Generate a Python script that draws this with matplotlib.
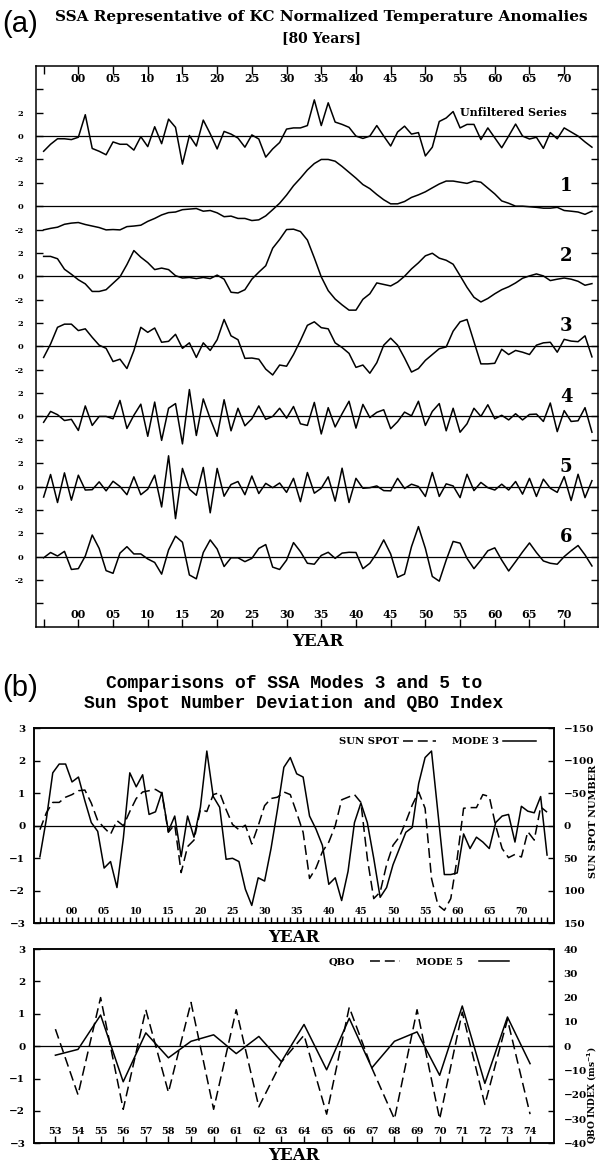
import numpy as np
import matplotlib
matplotlib.use("Agg")
import matplotlib.pyplot as plt
from matplotlib.lines import Line2D

# ---- data ----
YEARS = list(range(1895, 1975))

UNFILTERED = [-1.3, -0.7, -0.23, -0.23, -0.3, -0.1, 1.83, -1.06, -1.3, -1.6,
              -0.5, -0.7, -0.7, -1.2, -0.05, -0.9, 0.8, -0.65, 1.45, 0.75,
              -2.4, 0.05, -0.85, 1.37, 0.2, -1.1, 0.4, 0.17, -0.17, -0.95,
              0.1, -0.25, -1.8, -1.1, -0.55, 0.6, 0.7, 0.7, 0.9, 3.1,
              0.9, 2.85, 1.2, 1.0, 0.75, 0.0, -0.2, 0.0, 0.9, 0.0,
              -0.85, 0.35, 0.85, 0.17, 0.3, -1.7, -0.95, 1.25, 1.55, 2.1,
              0.7, 1.0, 1.0, -0.3, 0.7, -0.15, -1.0, 0.0, 1.03, 0.0,
              -0.25, -0.1, -1.05, 0.3, -0.23, 0.7, 0.35, 0.0, -0.5, -0.95]

MODE1 = [-2.03, -1.9, -1.8, -1.55, -1.45, -1.4, -1.57, -1.7, -1.83, -2.03,
         -2.0, -2.03, -1.75, -1.7, -1.63, -1.3, -1.05, -0.75, -0.55, -0.5,
         -0.3, -0.25, -0.2, -0.43, -0.37, -0.57, -0.9, -0.85, -1.05, -1.05,
         -1.23, -1.17, -0.83, -0.3, 0.25, 0.95, 1.75, 2.4, 3.1, 3.65,
         4.0, 4.0, 3.85, 3.4, 2.9, 2.4, 1.85, 1.5, 1.0, 0.55,
         0.2, 0.2, 0.4, 0.75, 0.97, 1.23, 1.57, 1.9, 2.15, 2.15,
         2.05, 1.95, 2.15, 2.05, 1.55, 1.05, 0.45, 0.25, 0.0, 0.0,
         -0.05, -0.1, -0.17, -0.17, -0.1, -0.37, -0.43, -0.5, -0.7, -0.43]

MODE2 = [1.7, 1.7, 1.5, 0.6, 0.17, -0.3, -0.65, -1.3, -1.3, -1.15,
         -0.6, -0.05, 1.0, 2.2, 1.63, 1.17, 0.57, 0.7, 0.57, 0.05,
         -0.15, -0.1, -0.2, -0.1, -0.2, 0.1, -0.25, -1.37, -1.43, -1.15,
         -0.25, 0.35, 0.9, 2.4, 3.15, 4.0, 4.03, 3.83, 3.1, 1.57,
         -0.05, -1.23, -1.95, -2.45, -2.9, -2.9, -1.97, -1.5, -0.57, -0.7,
         -0.83, -0.5, 0.0, 0.63, 1.15, 1.75, 1.97, 1.55, 1.37, 1.03,
         0.05, -0.95, -1.8, -2.2, -1.9, -1.5, -1.15, -0.9, -0.57, -0.17,
         0.03, 0.2, 0.03, -0.37, -0.25, -0.15, -0.25, -0.43, -0.77, -0.63]

MODE3 = [-0.95, 0.2, 1.63, 1.9, 1.9, 1.35, 1.5, 0.77, 0.1, -0.17,
         -1.3, -1.1, -1.9, -0.37, 1.63, 1.2, 1.57, 0.35, 0.43, 1.03,
         -0.17, 0.3, -0.95, 0.3, -0.35, 0.57, 2.3, 0.9, 0.57, -1.03,
         -1.0, -1.1, -1.95, -2.45, -1.6, -1.7, -0.7, 0.5, 1.8, 2.1,
         1.6, 1.5, 0.3, -0.1, -0.6, -1.8, -1.6, -2.3, -1.4, 0.1,
         0.7, 0.1, -1.0, -2.2, -1.9, -1.2, -0.7, -0.2, -0.05, 1.3,
         2.1, 2.3, 0.4, -1.5, -1.5, -1.45, -0.25, -0.7, -0.35, -0.5,
         -0.7, 0.1, 0.3, 0.35, -0.5, 0.6, 0.45, 0.4, 0.9, -0.9]

MODE4 = [-0.5, 0.43, 0.15, -0.35, -0.25, -1.2, 0.9, -0.77, 0.0, 0.0,
         -0.2, 1.37, -1.03, 0.1, 1.05, -1.7, 1.23, -2.05, 0.7, 1.1,
         -2.35, 2.3, -1.63, 1.5, -0.2, -1.7, 1.43, -1.23, 0.7, -0.8,
         -0.2, 0.9, -0.25, 0.0, 0.7, -0.15, 0.85, -0.63, -0.77, 1.2,
         -1.5, 0.75, -0.9, 0.23, 1.3, -1.0, 1.03, -0.1, 0.35, 0.57,
         -1.05, -0.45, 0.37, 0.05, 1.3, -0.77, 0.43, 1.1, -1.23, 0.7,
         -1.35, -0.63, 0.7, 0.0, 1.0, -0.2, 0.1, -0.3, 0.23, -0.3,
         0.17, 0.2, -0.43, 1.15, -1.3, 0.5, -0.43, -0.37, 0.75, -1.35]

MODE5 = [-0.9, 1.03, -1.37, 1.17, -1.17, 0.97, -0.3, -0.27, 0.4, -0.37,
         0.45, 0.0, -0.7, 0.83, -0.7, -0.23, 0.97, -1.75, 2.63, -2.75,
         1.55, -0.23, -0.75, 1.63, -2.25, 1.55, -0.83, 0.17, 0.43, -0.7,
         0.9, -0.6, 0.27, -0.1, 0.3, -0.5, 0.7, -1.3, 1.2, -0.57,
         -0.15, 0.83, -1.25, 1.57, -1.37, 0.7, -0.15, -0.1, 0.05, -0.35,
         -0.37, 0.7, -0.17, 0.2, 0.0, -0.85, 1.2, -0.85, 0.23, 0.05,
         -0.95, 1.05, -0.35, 0.35, -0.1, -0.3, 0.2, -0.3, 0.43, -0.65,
         0.7, -0.85, 0.63, -0.15, -0.5, 0.85, -1.2, 1.05, -0.95, 0.5]

MODE6 = [-0.1, 0.35, 0.05, 0.45, -1.1, -1.03, 0.05, 1.85, 0.7, -1.2,
         -1.43, 0.3, 0.85, 0.23, 0.23, -0.2, -0.5, -1.5, 0.57, 1.75,
         1.23, -1.57, -1.9, 0.35, 1.43, 0.65, -0.85, -0.1, -0.1, -0.43,
         -0.15, 0.7, 1.03, -0.9, -1.1, -0.3, 1.2, 0.43, -0.57, -0.65,
         0.1, 0.37, -0.15, 0.3, 0.37, 0.35, -1.03, -0.57, 0.3, 1.43,
         0.23, -1.77, -1.5, 0.85, 2.57, 0.7, -1.7, -2.1, -0.3, 1.3,
         1.15, -0.15, -1.03, -0.3, 0.5, 0.75, -0.3, -1.23, -0.43, 0.4,
         1.17, 0.35, -0.37, -0.57, -0.65, 0.0, 0.5, 0.95, 0.15, -0.8]

ROW_LABELS = ["", "1", "2", "3", "4", "5", "6"]

# sun spot number deviation (right axis, inverted)
SUNSPOT = [6, -20, -36, -36, -44, -48, -54, -55, -35, -8,
           3, 13, -8, 0, -22, -42, -52, -54, -56, -50,
           10, -2, 72, 32, 22, -25, -22, -48, -51, -25,
           -2, 6, -1, 28, 0, -31, -42, -44, -52, -48,
           -20, 10, 81, 65, 40, 25, 0, -40, -44, -48,
           -36, 50, 112, 102, 60, 30, 17, -6, -32, -52,
           -27, 81, 122, 130, 112, 50, -27, -28, -28, -48,
           -45, 0, 35, 49, 44, 48, 9, 22, -29, -21]

QBO_YEARS = list(range(1953, 1975))
QBO = [7, -20, 20, -26, 15, -19, 18, -26, 15, -25, -6.5,
       4.5, -28, 16, -9, -30, 15, -30, 14, -24, 11, -28]
MODE5_QBO = [-0.28, -0.1, 0.96, -1.1, 0.41, -0.36, 0.15, 0.35, -0.23, 0.3, -0.48,
             0.67, -0.73, 0.86, -0.67, 0.15, 0.44, -0.9, 1.24, -1.15, 0.9, -0.54]

# ---- style ----
plt.rcParams["font.family"] = "DejaVu Serif"
plt.rcParams["font.weight"] = "bold"
plt.rcParams["axes.linewidth"] = 1.1

W, H = 600, 1165
LW = 1.1
DASH = (0, (6.5, 3.2))
ROW_STEP = 6


def box(left, top, right, bottom):
    return [left / W, 1 - bottom / H, (right - left) / W, (bottom - top) / H]


fig = plt.figure(figsize=(W / 100, H / 100), dpi=100)

# ---------------- panel (a) ----------------
fig.text(2 / W, 1 - 23.5 / H, "(a)", fontsize=21, family="Liberation Sans",
         fontweight="normal", ha="left", va="center")
fig.text(321 / W, 1 - 17 / H, "SSA Representative of KC Normalized Temperature Anomalies",
         fontsize=11, ha="center", va="center")
fig.text(321 / W, 1 - 38 / H, "[80 Years]", fontsize=10, ha="center", va="center")

axA = fig.add_axes(box(36, 66, 597.5, 626.7))
rows = [UNFILTERED, MODE1, MODE2, MODE3, MODE4, MODE5, MODE6]
for k, series in enumerate(rows):
    off = -ROW_STEP * k
    axA.axhline(off, color="k", lw=0.9)
    axA.plot(YEARS, np.asarray(series) + off, color="k", lw=LW)
    if ROW_LABELS[k]:
        axA.text(1970.3, off + 1.7, ROW_LABELS[k], fontsize=13,
                 ha="center", va="center")
axA.text(1955, 2.0, "Unfiltered Series", fontsize=8, ha="left", va="center")

axA.set_xlim(1893.9, 1974.8)
axA.set_ylim(-42, 6)
yt = np.arange(-40, 5, 2)
axA.set_yticks(yt)
axA.set_yticklabels(["" if v in (4, -40) else "%d" % (((v + 2) % 6) - 2) for v in yt])
xt = list(range(1895, 1971, 5))
axA.set_xticks(xt)
axA.set_xticklabels(["" if y == 1895 else "%02d" % (y % 100) for y in xt])
axA.tick_params(axis="x", direction="in", top=True, bottom=True, labeltop=True,
                labelbottom=True, length=6, width=1, pad=-13, labelsize=8)
axA.tick_params(axis="y", direction="in", left=True, right=True, length=5,
                width=1, labelsize=6, pad=9)
fig.text(318 / W, 1 - 642 / H, "YEAR", fontsize=12, ha="center", va="center")

# ---------------- panel (b) ----------------
fig.text(2 / W, 1 - 688 / H, "(b)", fontsize=21, family="Liberation Sans",
         fontweight="normal", ha="left", va="center")
fig.text(294 / W, 1 - 684 / H, "Comparisons of SSA Modes 3 and 5 to",
         fontsize=13, family="Liberation Mono", ha="center", va="center")
fig.text(294 / W, 1 - 703 / H, "Sun Spot Number Deviation and QBO Index",
         fontsize=13, family="Liberation Mono", ha="center", va="center")

# top: mode 3 vs sun spot
axB1 = fig.add_axes(box(33.7, 728.3, 553.8, 923.3))
axB1.axhline(0, color="k", lw=0.9)
axB1.plot(YEARS, MODE3, color="k", lw=LW)
axB1.set_xlim(1894.03, 1975.05)
axB1.set_ylim(-3, 3)
axB1r = axB1.twinx()
axB1r.plot(YEARS, SUNSPOT, color="k", lw=LW, ls=DASH)
axB1r.set_ylim(150, -150)
axB1r.set_yticks(np.arange(-150, 151, 50))
axB1r.tick_params(axis="y", length=0, pad=7, labelsize=7.5)

axB1.set_yticks(np.arange(-3, 4, 1))
axB1.set_xticks(YEARS)
axB1.set_xticklabels(["%02d" % (y % 100) if y % 5 == 0 and y >= 1900 else "" for y in YEARS])
axB1.tick_params(axis="x", direction="in", length=4.5, width=1, pad=-11.7, labelsize=6.5)
axB1.tick_params(axis="y", direction="in", left=True, right=True, length=4.5,
                 width=1, labelsize=7.5, pad=6)

handles = [Line2D([], [], color="k", lw=LW, ls=DASH), Line2D([], [], color="k", lw=LW)]
axB1r.legend(handles, ["SUN SPOT", "MODE 3"], ncol=2, markerfirst=False, frameon=False,
             loc="center right", bbox_to_anchor=(0.965, 0.931), borderaxespad=0,
             borderpad=0, handlelength=3.2, handletextpad=0.4, columnspacing=1.6,
             prop={"size": 7.3, "weight": "bold"})
fig.text(594 / W, 1 - 821.5 / H, "SUN SPOT NUMBER", rotation=90, fontsize=7,
         ha="center", va="center")
fig.text(294 / W, 1 - 937 / H, "YEAR", fontsize=12, ha="center", va="center")

# bottom: mode 5 vs QBO
axB2 = fig.add_axes(box(33.7, 949, 553.8, 1143.3))
axB2.axhline(0, color="k", lw=0.9)
axB2.plot(QBO_YEARS, MODE5_QBO, color="k", lw=LW)
axB2.set_xlim(1952.04, 1975.05)
axB2.set_ylim(-3, 3)
axB2r = axB2.twinx()
axB2r.plot(QBO_YEARS, QBO, color="k", lw=LW, ls=DASH)
axB2r.set_ylim(-40, 40)
axB2r.set_yticks(np.arange(-40, 41, 10))
axB2r.tick_params(axis="y", length=0, pad=7, labelsize=7.5)

axB2.set_yticks(np.arange(-3, 4, 1))
axB2.set_xticks(QBO_YEARS)
axB2.set_xticklabels(["%02d" % (y % 100) for y in QBO_YEARS])
axB2.tick_params(axis="x", direction="in", length=4.8, width=1, pad=-11.5, labelsize=7)
axB2.tick_params(axis="y", direction="in", left=True, right=True, length=4.5,
                 width=1, labelsize=7.5, pad=6)

axB2r.legend(handles, ["QBO", "MODE 5"], ncol=2, markerfirst=False, frameon=False,
             loc="center right", bbox_to_anchor=(0.914, 0.932), borderaxespad=0,
             borderpad=0, handlelength=3.0, handletextpad=1.5, columnspacing=1.6,
             prop={"size": 7.3, "weight": "bold"})
fig.text(592 / W, 1 - 1095 / H, r"QBO INDEX (ms$^{-1}$)", rotation=90, fontsize=6.5,
         ha="center", va="center")
fig.text(294 / W, 1 - 1155.7 / H, "YEAR", fontsize=12, ha="center", va="center")

fig.savefig("out.png", dpi=100)
